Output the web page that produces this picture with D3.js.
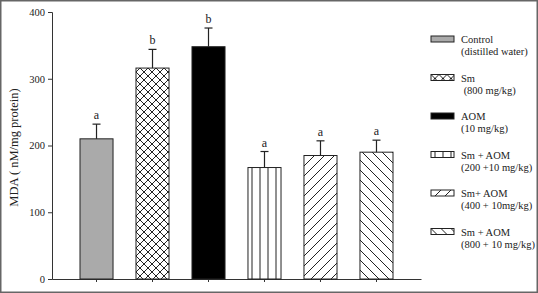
<!DOCTYPE html>
<html>
<head>
<meta charset="utf-8">
<script src="https://cdn.jsdelivr.net/npm/d3@7"></script>
<style>
  body { margin: 0; background: white; }
  text { font-family: "Liberation Serif", "Times New Roman", serif; fill: #222; }
</style>
</head>
<body>
<div id="chart"></div>
<script>
// values
const groups = ["Control", "Sm", "AOM", "Sm+AOM 200", "Sm+AOM 400", "Sm+AOM 800"];
const means = [210, 316, 348, 167, 185, 190];
const errors = [22, 28, 28, 24, 22, 18];
const letters = ["a", "b", "b", "a", "a", "a"];
const fills = ["gray", "cross", "black", "vert", "fwd", "back"];
const legendLine1 = ["Control", "Sm", "AOM", "Sm + AOM", "Sm+ AOM", "Sm + AOM"];
const legendLine2 = ["(distilled water)", " (800 mg/kg)", "(10 mg/kg)", "(200 +10 mg/kg)", "(400 + 10mg/kg)", "(800 + 10 mg/kg)"];
const yTicks = [0, 100, 200, 300, 400];

const width = 538, height = 293;
const margin = {top: 12, right: 117, bottom: 14, left: 52};

const svg = d3.select("#chart")
  .append("svg")
  .attr("width", width)
  .attr("height", height)
  .style("background-color", "white");

// hatch patterns
const defs = svg.append("defs");
const ink = "#222";
function pat(id, w, h, d) {
  defs.append("pattern")
    .attr("id", id)
    .attr("patternUnits", "userSpaceOnUse")
    .attr("width", w).attr("height", h)
    .append("path")
    .attr("d", d)
    .attr("stroke", ink)
    .attr("stroke-width", 1)
    .attr("fill", "none");
}
pat("cross", 8, 8, "M0,0L8,8M8,0L0,8");
pat("vert", 8, 8, "M4,0V8");
pat("fwd", 10, 10, "M0,10L10,0M-2,2L2,-2M8,12L12,8");
pat("back", 10, 10, "M0,0L10,10M-2,8L2,12M8,-2L12,2");

function fillOf(f) {
  if (f === "gray") return "#aaaaaa";
  if (f === "black") return "#000";
  return `url(#${f})`;
}

// frame
svg.append("rect")
  .attr("x", 0.75).attr("y", 0.75)
  .attr("width", width - 1.5).attr("height", height - 1.5)
  .attr("fill", "none")
  .attr("stroke", "#666")
  .attr("stroke-width", 1.5);

const xScale = d3.scaleBand()
  .domain(groups)
  .range([margin.left, 421])
  .paddingInner(0.41)
  .paddingOuter(0.5);

const yScale = d3.scaleLinear()
  .domain([0, 400])
  .range([height - margin.bottom, margin.top]);

// y axis
const yAxis = svg.append("g")
  .attr("transform", `translate(${margin.left},0)`)
  .call(d3.axisLeft(yScale).tickValues(yTicks).tickSize(4).tickPadding(3).tickFormat(d3.format("d")));
yAxis.selectAll("text").style("font-size", "10.5px").style("font-family", "Liberation Serif, serif");
yAxis.selectAll("line,path").attr("stroke", "#333");

// x axis
const xAxis = svg.append("g")
  .attr("transform", `translate(0,${yScale(0)})`)
  .call(d3.axisBottom(xScale).tickSize(3).tickSizeOuter(0).tickFormat(""));
xAxis.selectAll("line,path").attr("stroke", "#333");

// bars
svg.selectAll("rect.bar")
  .data(groups)
  .enter().append("rect")
  .attr("class", "bar")
  .attr("x", d => xScale(d))
  .attr("y", (d, i) => yScale(means[i]))
  .attr("width", xScale.bandwidth())
  .attr("height", (d, i) => yScale(0) - yScale(means[i]))
  .attr("fill", (d, i) => fillOf(fills[i]))
  .attr("stroke", "#222")
  .attr("stroke-width", 1);

// error bars
const cx = d => xScale(d) + xScale.bandwidth() / 2;
svg.selectAll("line.err")
  .data(groups)
  .enter().append("line")
  .attr("x1", cx).attr("x2", cx)
  .attr("y1", (d, i) => yScale(means[i]))
  .attr("y2", (d, i) => yScale(means[i] + errors[i]))
  .attr("stroke", "#222").attr("stroke-width", 1.2);
svg.selectAll("line.cap")
  .data(groups)
  .enter().append("line")
  .attr("x1", d => cx(d) - 4).attr("x2", d => cx(d) + 4)
  .attr("y1", (d, i) => yScale(means[i] + errors[i]))
  .attr("y2", (d, i) => yScale(means[i] + errors[i]))
  .attr("stroke", "#222").attr("stroke-width", 1.2);

// significance letters
svg.selectAll("text.sig")
  .data(groups)
  .enter().append("text")
  .attr("x", cx)
  .attr("y", (d, i) => yScale(means[i] + errors[i]) - 5)
  .attr("text-anchor", "middle")
  .style("font-size", "12px")
  .text((d, i) => letters[i]);

// y label
svg.append("text")
  .attr("transform", `translate(18,${(yScale(0) + yScale(400)) / 2 + 2}) rotate(-90)`)
  .attr("text-anchor", "middle")
  .style("font-size", "12.5px")
  .text("MDA ( nM/mg protein)");

// legend
const legend = svg.append("g").attr("transform", "translate(431,36)");
const item = legend.selectAll("g")
  .data(groups)
  .enter().append("g")
  .attr("transform", (d, i) => `translate(0,${i * 38.5})`);
item.append("rect")
  .attr("width", 23).attr("height", 6)
  .attr("fill", (d, i) => fillOf(fills[i]))
  .attr("stroke", "#222").attr("stroke-width", 1);
item.append("text")
  .attr("x", 30).attr("y", 7)
  .style("font-size", "10.5px")
  .text((d, i) => legendLine1[i]);
item.append("text")
  .attr("x", 30).attr("y", 19)
  .style("font-size", "10.5px")
  .style("white-space", "pre")
  .attr("xml:space", "preserve")
  .text((d, i) => legendLine2[i]);
</script>
</body>
</html>
